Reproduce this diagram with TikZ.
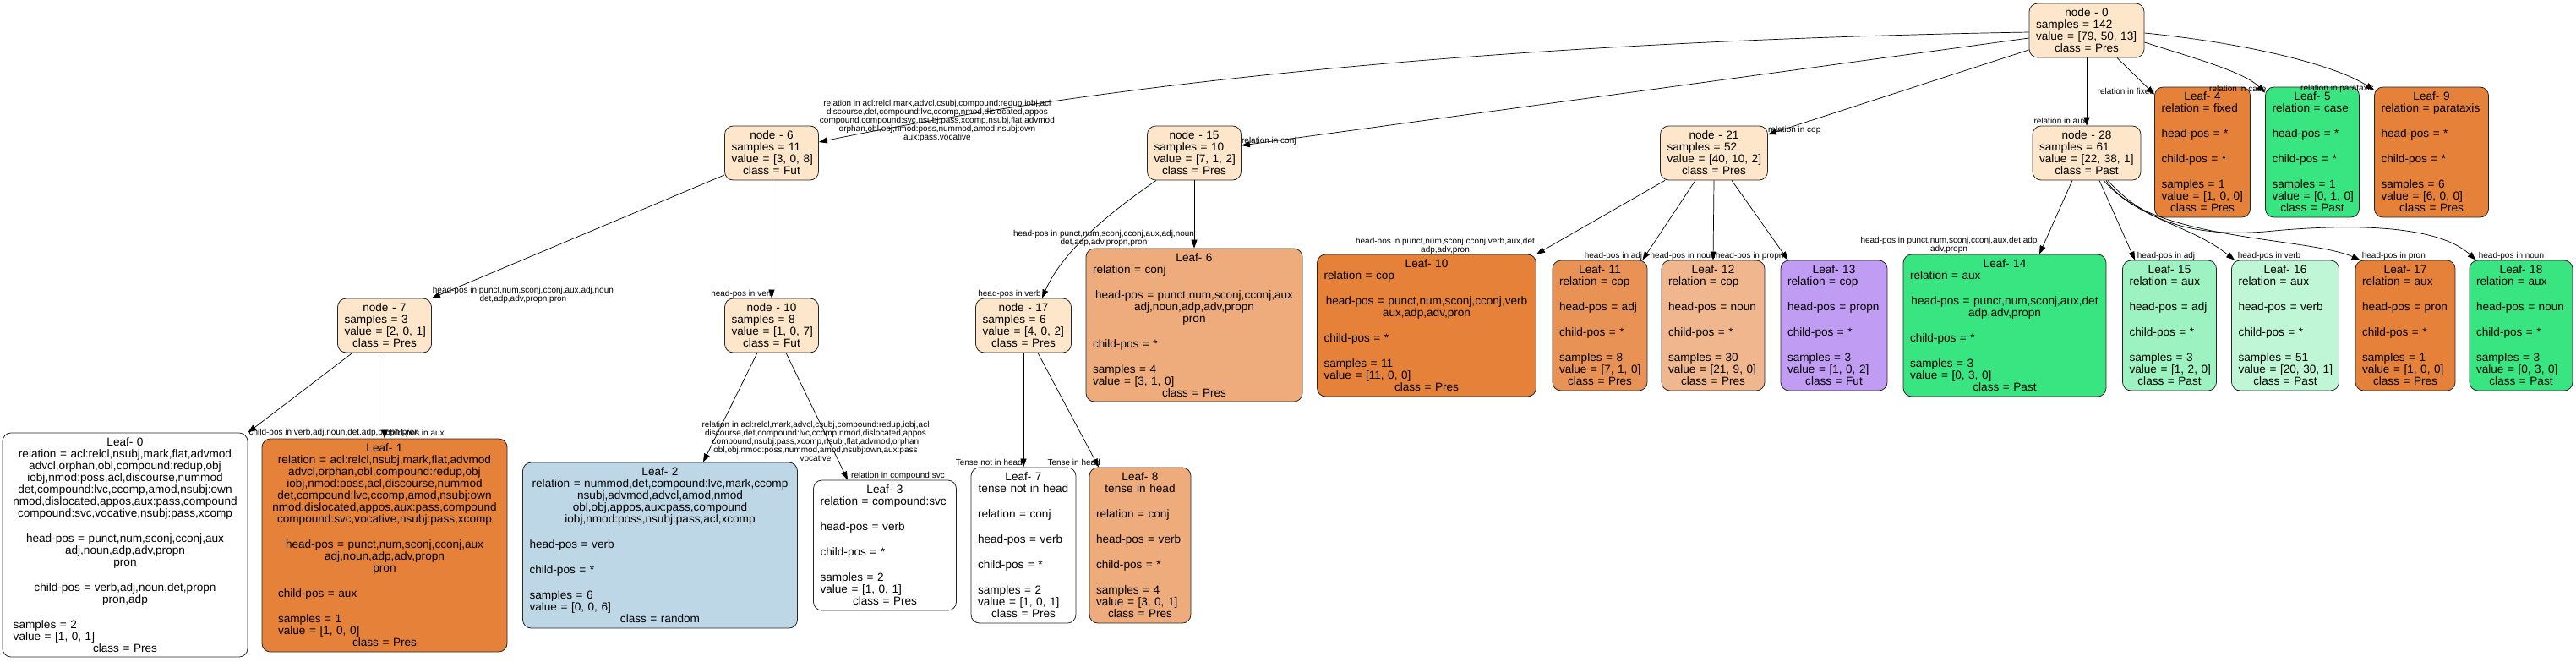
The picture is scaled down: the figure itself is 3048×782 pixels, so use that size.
\documentclass[tikz,border=0pt]{standalone}
\usepackage{fontspec}
\setmainfont{Liberation Sans}
\usetikzlibrary{arrows.meta}
\definecolor{nodefill}{HTML}{FDE6CA}
\definecolor{pres}{HTML}{E58139}
\definecolor{presmid}{HTML}{EEAB7B}
\definecolor{preseight}{HTML}{E89355}
\definecolor{preslight}{HTML}{F0B78E}
\definecolor{past}{HTML}{39E581}
\definecolor{pastmid}{HTML}{9CF2C0}
\definecolor{pastlight}{HTML}{BFF7D6}
\definecolor{futmid}{HTML}{C09CF2}
\definecolor{randomblue}{HTML}{BDD7E7}
\newcommand{\cen}[1]{\makebox[\linewidth][c]{#1}}
\newcommand{\lft}[1]{\makebox[\linewidth][l]{#1}}

\begin{document}
\begin{tikzpicture}[x=1pt, y=-1pt]
      \tikzstyle{box} = [rectangle, rounded corners=10pt, draw=black!85, line width=0.8pt, align=left, inner xsep=8pt, inner ysep=0pt, font=\fontsize{13.6}{14}\selectfont]
      \tikzstyle{split} = [box, fill=nodefill, minimum height=64pt]
      \tikzstyle{leaf} = [box, fill=white, minimum height=154pt]
      \tikzstyle{cond} = [inner sep=0pt, align=center, font=\fontsize{10}{10}\selectfont]
      \tikzstyle{arrow} = [line width=0.7pt, ->, >={Triangle[length=10pt, width=7pt]}]

      \useasboundingbox (0,0) rectangle (3048,782);

      \node (node-0) [split, text width=120pt] at (2469,36) {\cen{node - 0}\\\lft{samples = 142}\\\lft{value = [79, 50, 13]}\\\cen{class = Pres}};
      \node (node-6) [split, text width=95pt] at (913,181) {\cen{node - 6}\\\lft{samples = 11}\\\lft{value = [3, 0, 8]}\\\cen{class = Fut}};
      \node (node-15) [split, text width=95pt] at (1413,181) {\cen{node - 15}\\\lft{samples = 10}\\\lft{value = [7, 1, 2]}\\\cen{class = Pres}};
      \node (node-21) [split, text width=111pt] at (2028,181) {\cen{node - 21}\\\lft{samples = 52}\\\lft{value = [40, 10, 2]}\\\cen{class = Pres}};
      \node (node-28) [split, text width=112pt] at (2469,181) {\cen{node - 28}\\\lft{samples = 61}\\\lft{value = [22, 38, 1]}\\\cen{class = Past}};
      \node (node-7) [split, text width=95pt] at (455,385) {\cen{node - 7}\\\lft{samples = 3}\\\lft{value = [2, 0, 1]}\\\cen{class = Pres}};
      \node (node-10) [split, text width=95pt] at (913,385) {\cen{node - 10}\\\lft{samples = 8}\\\lft{value = [1, 0, 7]}\\\cen{class = Fut}};
      \node (node-17) [split, text width=97pt] at (1211,385) {\cen{node - 17}\\\lft{samples = 6}\\\lft{value = [4, 0, 2]}\\\cen{class = Pres}};

      \node (leaf-4) [leaf, fill=pres, text width=97pt] at (2606,180) {\cen{Leaf- 4}\\\lft{relation = fixed}\\[16pt]\lft{head-pos = *}\\[16pt]\lft{child-pos = *}\\[16pt]\lft{samples = 1}\\\lft{value = [1, 0, 0]}\\\cen{class = Pres}};
      \node (leaf-5) [leaf, fill=past, text width=95pt] at (2736,180) {\cen{Leaf- 5}\\\lft{relation = case}\\[16pt]\lft{head-pos = *}\\[16pt]\lft{child-pos = *}\\[16pt]\lft{samples = 1}\\\lft{value = [0, 1, 0]}\\\cen{class = Past}};
      \node (leaf-9) [leaf, fill=pres, text width=119pt] at (2877,180) {\cen{Leaf- 9}\\\lft{relation = parataxis}\\[16pt]\lft{head-pos = *}\\[16pt]\lft{child-pos = *}\\[16pt]\lft{samples = 6}\\\lft{value = [6, 0, 0]}\\\cen{class = Pres}};

      \node (leaf-6) [leaf, fill=presmid, text width=240pt, minimum height=181pt] at (1413,384.5) {\cen{Leaf- 6}\\\lft{relation = conj}\\[16pt]\cen{head-pos = punct,num,sconj,cconj,aux}\\\cen{adj,noun,adp,adv,propn}\\\cen{pron}\\[16pt]\lft{child-pos = *}\\[16pt]\lft{samples = 4}\\\lft{value = [3, 1, 0]}\\\cen{class = Pres}};
      \node (leaf-10) [leaf, fill=pres, text width=243pt, minimum height=168pt] at (1688,385) {\cen{Leaf- 10}\\\lft{relation = cop}\\[16pt]\cen{head-pos = punct,num,sconj,cconj,verb}\\\cen{aux,adp,adv,pron}\\[16pt]\lft{child-pos = *}\\[16pt]\lft{samples = 11}\\\lft{value = [11, 0, 0]}\\\cen{class = Pres}};
      \node (leaf-11) [leaf, fill=preseight, text width=96pt] at (1893,385) {\cen{Leaf- 11}\\\lft{relation = cop}\\[16pt]\lft{head-pos = adj}\\[16pt]\lft{child-pos = *}\\[16pt]\lft{samples = 8}\\\lft{value = [7, 1, 0]}\\\cen{class = Pres}};
      \node (leaf-12) [leaf, fill=preslight, text width=106pt] at (2027,385) {\cen{Leaf- 12}\\\lft{relation = cop}\\[16pt]\lft{head-pos = noun}\\[16pt]\lft{child-pos = *}\\[16pt]\lft{samples = 30}\\\lft{value = [21, 9, 0]}\\\cen{class = Pres}};
      \node (leaf-13) [leaf, fill=futmid, text width=110pt] at (2170,385) {\cen{Leaf- 13}\\\lft{relation = cop}\\[16pt]\lft{head-pos = propn}\\[16pt]\lft{child-pos = *}\\[16pt]\lft{samples = 3}\\\lft{value = [1, 0, 2]}\\\cen{class = Fut}};
      \node (leaf-14) [leaf, fill=past, text width=224pt, minimum height=168pt] at (2372,385) {\cen{Leaf- 14}\\\lft{relation = aux}\\[16pt]\cen{head-pos = punct,num,sconj,aux,det}\\\cen{adp,adv,propn}\\[16pt]\lft{child-pos = *}\\[16pt]\lft{samples = 3}\\\lft{value = [0, 3, 0]}\\\cen{class = Past}};
      \node (leaf-15) [leaf, fill=pastmid, text width=95pt] at (2567,385) {\cen{Leaf- 15}\\\lft{relation = aux}\\[16pt]\lft{head-pos = adj}\\[16pt]\lft{child-pos = *}\\[16pt]\lft{samples = 3}\\\lft{value = [1, 2, 0]}\\\cen{class = Past}};
      \node (leaf-16) [leaf, fill=pastlight, text width=111pt] at (2704,385) {\cen{Leaf- 16}\\\lft{relation = aux}\\[16pt]\lft{head-pos = verb}\\[16pt]\lft{child-pos = *}\\[16pt]\lft{samples = 51}\\\lft{value = [20, 30, 1]}\\\cen{class = Past}};
      \node (leaf-17) [leaf, fill=pres, text width=102pt] at (2846,385) {\cen{Leaf- 17}\\\lft{relation = aux}\\[16pt]\lft{head-pos = pron}\\[16pt]\lft{child-pos = *}\\[16pt]\lft{samples = 1}\\\lft{value = [1, 0, 0]}\\\cen{class = Pres}};
      \node (leaf-18) [leaf, fill=past, text width=106pt] at (2983,385) {\cen{Leaf- 18}\\\lft{relation = aux}\\[16pt]\lft{head-pos = noun}\\[16pt]\lft{child-pos = *}\\[16pt]\lft{samples = 3}\\\lft{value = [0, 3, 0]}\\\cen{class = Past}};

      \node (leaf-0) [leaf, inner xsep=12.7pt, text width=264.6pt, minimum height=265pt] at (148,644.5) {\cen{Leaf- 0}\\\cen{relation = acl:relcl,nsubj,mark,flat,advmod}\\\cen{advcl,orphan,obl,compound:redup,obj}\\\cen{iobj,nmod:poss,acl,discourse,nummod}\\\cen{det,compound:lvc,ccomp,amod,nsubj:own}\\\cen{nmod,dislocated,appos,aux:pass,compound}\\\cen{compound:svc,vocative,nsubj:pass,xcomp}\\[16pt]\cen{head-pos = punct,num,sconj,cconj,aux}\\\cen{adj,noun,adp,adv,propn}\\\cen{pron}\\[16pt]\cen{child-pos = verb,adj,noun,det,propn}\\\cen{pron,adp}\\[16pt]\lft{samples = 2}\\\lft{value = [1, 0, 1]}\\\cen{class = Pres}};
      \node (leaf-1) [leaf, fill=pres, inner xsep=19pt, text width=252pt, minimum height=252pt] at (455,645) {\cen{Leaf- 1}\\\cen{relation = acl:relcl,nsubj,mark,flat,advmod}\\\cen{advcl,orphan,obl,compound:redup,obj}\\\cen{iobj,nmod:poss,acl,discourse,nummod}\\\cen{det,compound:lvc,ccomp,amod,nsubj:own}\\\cen{nmod,dislocated,appos,aux:pass,compound}\\\cen{compound:svc,vocative,nsubj:pass,xcomp}\\[16pt]\cen{head-pos = punct,num,sconj,cconj,aux}\\\cen{adj,noun,adp,adv,propn}\\\cen{pron}\\[16pt]\lft{child-pos = aux}\\[16pt]\lft{samples = 1}\\\lft{value = [1, 0, 0]}\\\cen{class = Pres}};
      \node (leaf-2) [leaf, fill=randomblue, text width=309pt, minimum height=196pt] at (781,645) {\cen{Leaf- 2}\\\cen{relation = nummod,det,compound:lvc,mark,ccomp}\\\cen{nsubj,advmod,advcl,amod,nmod}\\\cen{obl,obj,appos,aux:pass,compound}\\\cen{iobj,nmod:poss,nsubj:pass,acl,xcomp}\\[16pt]\lft{head-pos = verb}\\[16pt]\lft{child-pos = *}\\[16pt]\lft{samples = 6}\\\lft{value = [0, 0, 6]}\\\cen{class = random}};
      \node (leaf-3) [leaf, text width=153pt] at (1047,645) {\cen{Leaf- 3}\\\lft{relation = compound:svc}\\[16pt]\lft{head-pos = verb}\\[16pt]\lft{child-pos = *}\\[16pt]\lft{samples = 2}\\\lft{value = [1, 0, 1]}\\\cen{class = Pres}};
      \node (leaf-7) [leaf, text width=108pt, minimum height=184pt] at (1211,645) {\cen{Leaf- 7}\\\cen{tense not in head}\\[16pt]\lft{relation = conj}\\[16pt]\lft{head-pos = verb}\\[16pt]\lft{child-pos = *}\\[16pt]\lft{samples = 2}\\\lft{value = [1, 0, 1]}\\\cen{class = Pres}};
      \node (leaf-8) [leaf, fill=presmid, text width=104pt, minimum height=184pt] at (1349,645) {\cen{Leaf- 8}\\\cen{tense in head}\\[16pt]\lft{relation = conj}\\[16pt]\lft{head-pos = verb}\\[16pt]\lft{child-pos = *}\\[16pt]\lft{samples = 4}\\\lft{value = [3, 0, 1]}\\\cen{class = Pres}};

      \draw [arrow] ([yshift=-2pt]node-0.west) .. controls (1700,50) and (1250,110) .. ([yshift=13pt]node-6.east);
      \draw [arrow] ([yshift=-9pt]node-0.west) -- ([yshift=9pt]node-15.east);
      \draw [arrow] ([yshift=-23pt]node-0.west) -- ([yshift=22pt]node-21.east);
      \draw [arrow] (node-0.south) -- (node-28.north);
      \draw [arrow] ([xshift=36pt]node-0.south) -- ([yshift=-9pt]leaf-4.north west);
      \draw [arrow] ([yshift=-14pt]node-0.east) .. controls (2600,70) and (2655,85) .. ([yshift=-7pt]leaf-5.north west);
      \draw [arrow] ([yshift=-3pt]node-0.east) .. controls (2650,50) and (2760,75) .. ([yshift=-4pt]leaf-9.north west);

      \draw [arrow] ([yshift=-26pt]node-6.west) -- (node-7.north east);
      \draw [arrow] (node-6.south) -- (node-10.north);
      \draw [arrow] ([xshift=-38pt]node-7.south) -- (leaf-0.north east);
      \draw [arrow] (node-7.south) -- (leaf-1.north);
      \draw [arrow] ([xshift=-17pt]node-10.south) -- ([xshift=51pt]leaf-2.north);
      \draw [arrow] ([xshift=17pt]node-10.south) -- ([xshift=-44pt]leaf-3.north);

      \draw [arrow] (node-15.south) -- (leaf-6.north);
      \draw [arrow] ([xshift=-45pt]node-15.south) .. controls (1330,240) and (1260,290) .. ([xshift=22pt]node-17.north);
      \draw [arrow] (node-17.south) -- (leaf-7.north);
      \draw [arrow] ([xshift=17pt]node-17.south) -- ([xshift=-49pt]leaf-8.north);

      \draw [arrow] ([xshift=-58pt]node-21.south) -- (leaf-10.north east);
      \draw [arrow] ([xshift=-22pt]node-21.south) -- ([xshift=-6pt]leaf-11.north east);
      \draw [arrow] (node-21.south) -- (leaf-12.north);
      \draw [arrow] ([xshift=21pt]node-21.south) -- ([xshift=9pt]leaf-13.north west);

      \draw [arrow] ([xshift=-17pt]node-28.south) -- ([xshift=41pt]leaf-14.north);
      \draw [arrow] ([xshift=15pt]node-28.south) -- ([xshift=15pt]leaf-15.north west);
      \draw [arrow] ([xshift=20pt]node-28.south) .. controls (2530,260) and (2590,265) .. ([xshift=4pt]leaf-16.north west);
      \draw [arrow] ([xshift=23pt]node-28.south) .. controls (2540,285) and (2730,280) .. ([xshift=6pt]leaf-17.north west);
      \draw [arrow] ([xshift=25pt]node-28.south) .. controls (2540,265) and (2600,280) .. (2680,274) .. controls (2760,266) and (2880,262) .. ([xshift=8pt]leaf-18.north west);

      \node (cond-0-6) [cond] at ([xshift=140pt, yshift=38pt]node-6.east) {relation in acl:relcl,mark,advcl,csubj,compound:redup,iobj,acl\\discourse,det,compound:lvc,ccomp,nmod,dislocated,appos\\compound,compound:svc,nsubj:pass,xcomp,nsubj,flat,advmod\\orphan,obl,obj,nmod:poss,nummod,amod,nsubj:own\\aux:pass,vocative};
      \node (cond-0-15) [cond, anchor=west] at ([yshift=14pt]node-15.east) {relation in conj};
      \node (cond-0-21) [cond, anchor=west] at ([yshift=27pt]node-21.east) {relation in cop};
      \node (cond-0-28) [cond, anchor=east] at ([yshift=6pt]node-28.north) {relation in aux};
      \node (cond-0-4) [cond, anchor=east] at ([yshift=-5pt]leaf-4.north west) {relation in fixed};
      \node (cond-0-5) [cond, anchor=east] at ([xshift=1.5pt, yshift=-2pt]leaf-5.north west) {relation in case};
      \node (cond-0-9) [cond, anchor=east] at ([yshift=-2pt]leaf-9.north west) {relation in parataxis};

      \node (cond-6-7) [cond] at ([xshift=108pt, yshift=4pt]node-7.north east) {head-pos in punct,num,sconj,cconj,aux,adj,noun\\det,adp,adv,propn,pron};
      \node (cond-6-10) [cond, anchor=east] at ([xshift=3pt, yshift=5pt]node-10.north) {head-pos in verb};
      \node (cond-7-0) [cond, anchor=west] at ([xshift=1pt]leaf-0.north east) {child-pos in verb,adj,noun,det,adp,propn,pron};
      \node (cond-7-1) [cond, anchor=west] at ([xshift=1pt, yshift=6pt]leaf-1.north) {child-pos in aux};
      \node (cond-10-2) [cond] at ([xshift=184pt, yshift=25pt]leaf-2.north) {relation in acl:relcl,mark,advcl,csubj,compound:redup,iobj,acl\\discourse,det,compound:lvc,ccomp,nmod,dislocated,appos\\compound,nsubj:pass,xcomp,nsubj,flat,advmod,orphan\\obl,obj,nmod:poss,nummod,amod,nsubj:own,aux:pass\\vocative};
      \node (cond-10-3) [cond, anchor=west] at ([xshift=-40pt, yshift=5pt]leaf-3.north) {relation in compound:svc};

      \node (cond-15-6) [cond] at ([xshift=-107pt, yshift=11.5pt]leaf-6.north) {head-pos in punct,num,sconj,cconj,aux,adj,noun\\det,adp,adv,propn,pron};
      \node (cond-15-17) [cond, anchor=east] at ([xshift=21pt, yshift=5pt]node-17.north) {head-pos in verb};
      \node (cond-17-7) [cond, anchor=east] at ([xshift=-1pt, yshift=6pt]leaf-7.north) {Tense not in head};
      \node (cond-17-8) [cond, anchor=east] at ([xshift=-47pt, yshift=6pt]leaf-8.north) {Tense in head};

      \node (cond-21-10) [cond] at ([xshift=22pt, yshift=10pt]leaf-10.north) {head-pos in punct,num,sconj,cconj,verb,aux,det\\adp,adv,pron};
      \node (cond-21-11) [cond, anchor=east] at ([xshift=-6pt, yshift=5pt]leaf-11.north east) {head-pos in adj};
      \node (cond-21-12) [cond, anchor=east] at ([xshift=3pt, yshift=5pt]leaf-12.north) {head-pos in noun};
      \node (cond-21-13) [cond, anchor=east] at ([xshift=4pt, yshift=5pt]leaf-13.north west) {head-pos in propn};

      \node (cond-28-14) [cond] at ([xshift=-66pt, yshift=11pt]leaf-14.north) {head-pos in punct,num,sconj,cconj,aux,det,adp\\adv,propn};
      \node (cond-28-15) [cond, anchor=west] at ([xshift=17.5pt, yshift=5pt]leaf-15.north west) {head-pos in adj};
      \node (cond-28-16) [cond, anchor=west] at ([xshift=7.5pt, yshift=5pt]leaf-16.north west) {head-pos in verb};
      \node (cond-28-17) [cond, anchor=west] at ([xshift=8pt, yshift=5pt]leaf-17.north west) {head-pos in pron};
      \node (cond-28-18) [cond, anchor=west] at ([xshift=11pt, yshift=5pt]leaf-18.north west) {head-pos in noun};
\end{tikzpicture}
\end{document}
